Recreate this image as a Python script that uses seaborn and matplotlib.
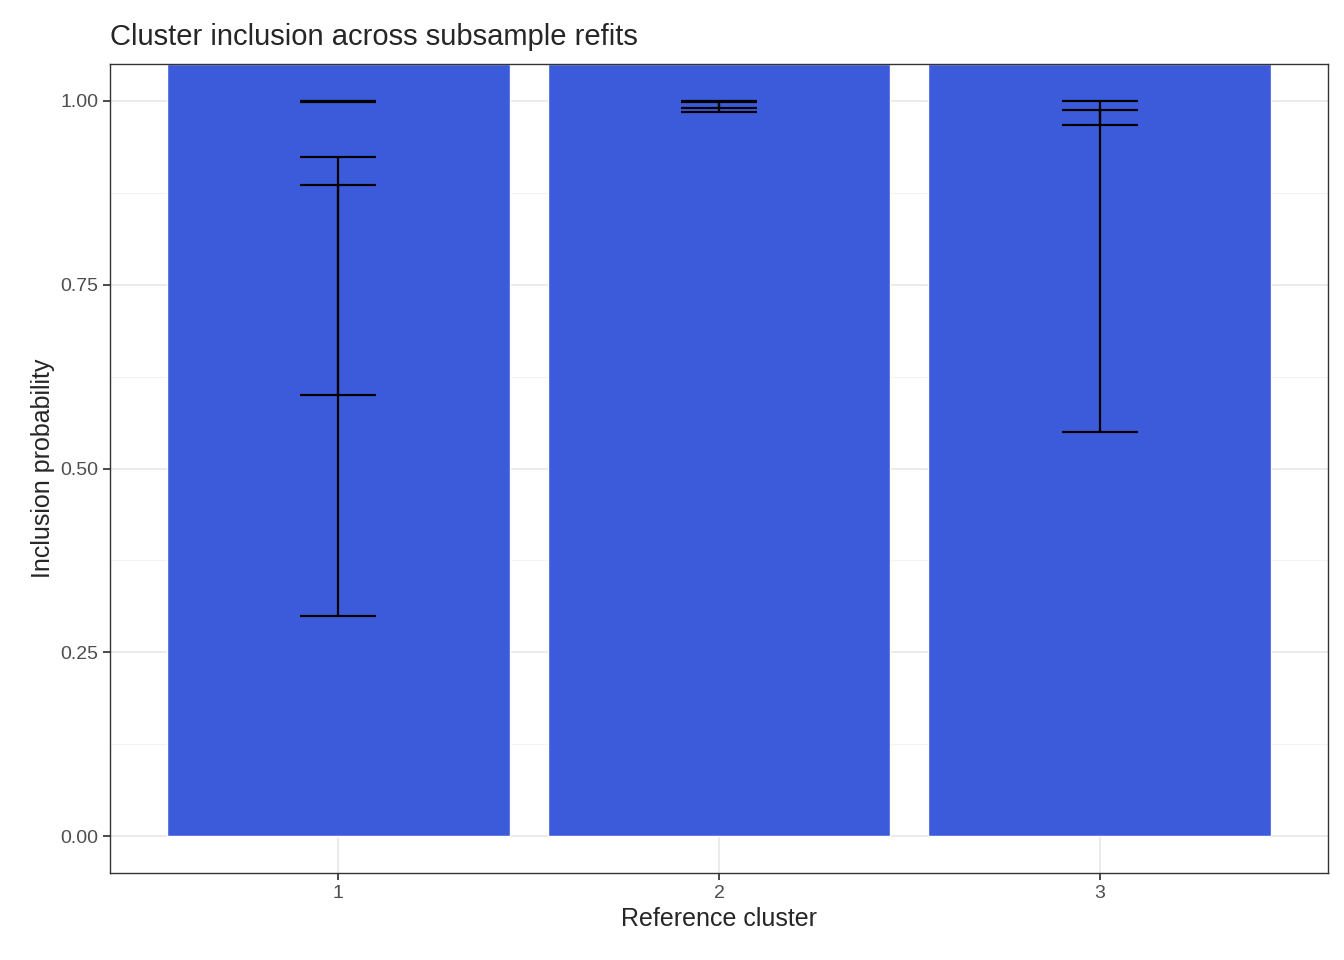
import numpy as np
import pandas as pd
import matplotlib
matplotlib.use("Agg")
import matplotlib.pyplot as plt
import seaborn as sns

clusters = ["1", "2", "3"]
bar_height = [1.05, 1.05, 1.05]  # bars run past the top of the panel
# interval rows: cluster, lower, upper
int_cluster = ["1", "1", "1", "2", "2", "3", "3"]
int_lower = [0.300, 0.885, 0.998, 0.985, 0.990, 0.550, 0.967]
int_upper = [0.924, 0.600, 1.000, 1.000, 0.998, 0.988, 1.000]

sns.set_theme(style="white")
plt.rcParams["font.family"] = ["Liberation Sans", "DejaVu Sans"]

fig = plt.figure(figsize=(13.44, 9.6), dpi=100)
ax = fig.add_axes([110 / 1344, 1 - 873 / 960, 1218 / 1344, 809 / 960])

df = pd.DataFrame({"cluster": clusters, "value": bar_height})
sns.barplot(data=df, x="cluster", y="value", color="#3C5BDA", saturation=1,
            width=0.9, ax=ax, zorder=2)

pos = {c: i for i, c in enumerate(clusters)}
for c, lo, hi in zip(int_cluster, int_lower, int_upper):
    x = pos[c]
    ax.vlines(x, min(lo, hi), max(lo, hi), color="black", lw=1.6, zorder=3)
    ax.hlines([lo, hi], x - 0.1, x + 0.1, color="black", lw=1.6, zorder=3)

ax.set_ylim(-0.05, 1.05)
ax.set_xlim(-0.6, 2.6)
ax.set_yticks([0, 0.25, 0.5, 0.75, 1.0])
ax.set_yticklabels(["0.00", "0.25", "0.50", "0.75", "1.00"])
ax.set_yticks([0.125, 0.375, 0.625, 0.875], minor=True)
ax.grid(True, which="major", color="#EBEBEB", lw=1.4, zorder=0)
ax.grid(True, which="minor", axis="y", color="#F3F3F3", lw=0.8, zorder=0)
ax.set_axisbelow(True)
for s in ax.spines.values():
    s.set_color("#333333")
    s.set_linewidth(1.0)
ax.tick_params(axis="both", which="major", length=5, color="#333333",
               labelsize=14, labelcolor="#4D4D4D", left=True, bottom=True)
ax.tick_params(axis="y", which="minor", length=0)
ax.set_xlabel("Reference cluster", fontsize=18)
ax.set_ylabel("Inclusion probability", fontsize=18)
ax.set_title("Cluster inclusion across subsample refits", fontsize=21,
             loc="left", pad=14)

fig.savefig("out.png", dpi=100)
